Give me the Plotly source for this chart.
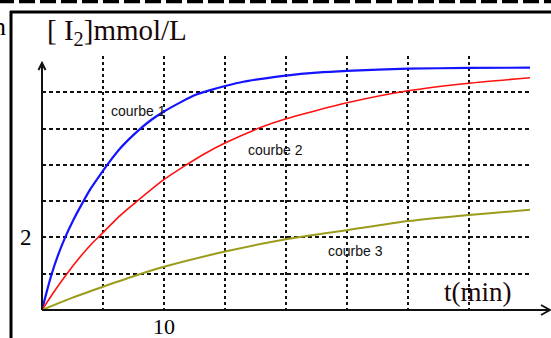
import plotly.graph_objects as go

# ---- data ----
t_courbe1 = [0, 0.4, 0.8, 1.3, 1.9, 2.6, 3.4, 4.0, 4.75, 5.5, 6.4, 7.2, 8.0, 9.0, 9.9, 11.5, 12.6,
             13.8, 15.1, 16.5, 18.0, 20.0, 22.5, 25.0, 30.0, 35.0, 40.0]
c_courbe1 = [0, 0.52, 1.0, 1.5, 2.0, 2.5, 3.0, 3.35, 3.72, 4.07, 4.45, 4.73, 4.98, 5.25, 5.45, 5.75, 5.93,
             6.06, 6.18, 6.29, 6.37, 6.46, 6.54, 6.59, 6.65, 6.67, 6.68]

t_courbe2 = [0, 1.0, 2.0, 3.0, 4.0, 4.75, 6.4, 7.8, 9.9, 11.6, 13.3, 15.0, 18.0, 20.0, 22.5, 25.0, 30.0, 35.0, 40.0]
c_courbe2 = [0, 0.51, 0.98, 1.41, 1.8, 2.05, 2.6, 3.0, 3.57, 3.95, 4.3, 4.6, 5.04, 5.27, 5.5, 5.71, 6.04, 6.25, 6.4]

t_courbe3 = [0, 2.5, 5.0, 7.5, 10.0, 15.0, 20.0, 25.0, 30.0, 35.0, 40.0]
c_courbe3 = [0, 0.34, 0.64, 0.93, 1.19, 1.61, 1.95, 2.2, 2.45, 2.62, 2.76]

series_names = ["courbe 1", "courbe 2", "courbe 3"]
series_colors = ["#1414ff", "#ff1010", "#9c9c1c"]

x_grid = [0, 5, 10, 15, 20, 25, 30, 35, 40]
y_grid = [0, 1, 2, 3, 4, 5, 6, 7]
x_tick_text = {10: "10"}
y_tick_text = {2: "2"}

SERIF = "Liberation Serif, Times New Roman, serif"
SANS = "Liberation Sans, Arial, sans-serif"

# plot area in pixels: x 42..530, y 56..310
def px(x):
    return (x - 42) / 488

def py(y):
    return (310 - y) / 254

fig = go.Figure()
for t, c, col, w in [(t_courbe1, c_courbe1, series_colors[0], 2.2),
                     (t_courbe2, c_courbe2, series_colors[1], 1.6),
                     (t_courbe3, c_courbe3, series_colors[2], 2)]:
    fig.add_trace(go.Scatter(x=t, y=c, mode="lines",
                             line=dict(color=col, width=w, shape="spline", smoothing=0.6),
                             showlegend=False, hoverinfo="skip"))

ann = []
# tick labels
for v, s in x_tick_text.items():
    ann.append(dict(x=v, y=0, xref="x", yref="y", text=s, showarrow=False,
                    yshift=-16, xanchor="center", yanchor="middle",
                    font=dict(family=SERIF, size=22, color="#000")))
for v, s in y_tick_text.items():
    ann.append(dict(x=0, y=v, xref="x", yref="y", text=s, showarrow=False,
                    xshift=-8, xanchor="right", yanchor="middle",
                    font=dict(family=SERIF, size=23, color="#000")))
# curve labels
for name, (lx, ly) in zip(series_names, [(5.5, 5.48), (16.7, 4.41), (23.3, 1.63)]):
    ann.append(dict(x=lx, y=ly, xref="x", yref="y", text=name, showarrow=False,
                    xanchor="left", yanchor="middle",
                    font=dict(family=SANS, size=14, color="#111")))
# axis titles
ann.append(dict(x=px(45), y=py(32), xref="paper", yref="paper",
                text="[ I<sub>2</sub>]mmol/L", showarrow=False, xanchor="left", yanchor="middle",
                font=dict(family=SERIF, size=29, color="#1a0808")))
ann.append(dict(x=px(514), y=py(292), xref="paper", yref="paper",
                text="t(min)", showarrow=False, xanchor="right", yanchor="middle",
                font=dict(family=SERIF, size=27, color="#1a0808")))
ann.append(dict(x=px(8), y=py(27), xref="paper", yref="paper",
                text="n", showarrow=False, xanchor="right", yanchor="middle",
                font=dict(family=SERIF, size=26, color="#000")))

shapes = [
    # frame left and top
    dict(type="line", xref="paper", yref="paper",
         x0=px(11), x1=px(11), y0=py(11), y1=py(340), line=dict(color="#000", width=3)),
    dict(type="line", xref="paper", yref="paper",
         x0=px(10), x1=px(552), y0=py(12), y1=py(12), line=dict(color="#000", width=3)),
    # top dashed separator
    dict(type="line", xref="paper", yref="paper",
         x0=px(-2), x1=px(553), y0=py(1.5), y1=py(1.5),
         line=dict(color="#000", width=3.5, dash="16px,5px")),
    # x axis with arrow
    dict(type="line", xref="paper", yref="paper",
         x0=px(42), x1=px(550), y0=py(310), y1=py(310), line=dict(color="#111", width=2)),
    dict(type="path", xref="paper", yref="paper",
         path=f"M {px(541)} {py(305)} L {px(550)} {py(310)} L {px(541)} {py(315)}",
         line=dict(color="#111", width=2)),
    # y axis with arrow
    dict(type="line", xref="paper", yref="paper",
         x0=px(42), x1=px(42), y0=py(310), y1=py(63), line=dict(color="#111", width=2)),
    dict(type="path", xref="paper", yref="paper",
         path=f"M {px(38.5)} {py(70)} L {px(42)} {py(63)} L {px(45.5)} {py(70)}",
         line=dict(color="#111", width=2)),
]

fig.update_layout(
    width=551, height=338, autosize=False,
    margin=dict(l=42, r=21, t=56, b=28, pad=0),
    paper_bgcolor="white", plot_bgcolor="white",
    annotations=ann, shapes=shapes,
    xaxis=dict(range=[0, 40], tickvals=x_grid, showticklabels=False, ticks="",
               showgrid=True, gridcolor="#111", gridwidth=1.6, griddash="3px,3px",
               zeroline=False, showline=False),
    yaxis=dict(range=[0, 7], tickvals=y_grid, showticklabels=False, ticks="",
               showgrid=True, gridcolor="#111", gridwidth=1.6, griddash="4px,3px",
               zeroline=False, showline=False),
)

fig.write_html("out.html", config={"displayModeBar": False},
               post_script="document.body.style.margin='0';")
